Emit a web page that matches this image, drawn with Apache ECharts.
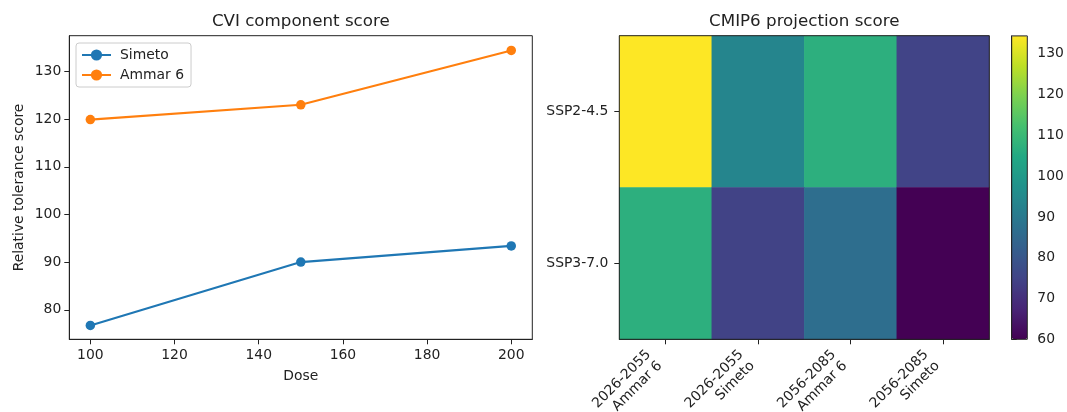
<!DOCTYPE html>
<html><head><meta charset="utf-8">
<script src="https://cdn.jsdelivr.net/npm/echarts@6/dist/echarts.min.js"></script>
<style>html,body{margin:0;padding:0;background:#fff}#c{width:1067px;height:412px}</style>
</head><body><div id="c"></div>
<script>
// ---- data ----
const doses = [100, 150, 200];
const simeto = [76.7, 90.0, 93.4];
const ammar6 = [119.9, 123.0, 134.4];
const doseTicks = [100, 120, 140, 160, 180, 200];
const scoreTicks = [80, 90, 100, 110, 120, 130];
const periods = ['2026-2055\nAmmar 6', '2026-2055\nSimeto', '2056-2085\nAmmar 6', '2056-2085\nSimeto'];
const scenarios = ['SSP2-4.5', 'SSP3-7.0'];
const ssp245 = [134.4, 93.5, 107.0, 75.0];
const ssp370 = [107.0, 74.6, 86.8, 60.0];
const cbarTicks = [60, 70, 80, 90, 100, 110, 120, 130];
const cbarMin = 60.0, cbarMax = 134.4;
const viridis = ['#440154', '#482576', '#414487', '#355f8d', '#2a788e', '#21918c', '#22a884', '#44bf70', '#7ad151', '#bddf26', '#fde725'];

// ---- build ----
const FONT = 'DejaVu Sans';
const TXT = '#222';
const FS = 13.9, TFS = 16.7;
const heatData = [];
[ssp245, ssp370].forEach((row, yi) => row.forEach((v, xi) => heatData.push([xi, yi, v])));

const chart = echarts.init(document.getElementById('c'), null, {renderer: 'canvas'});
const axisLine = {show: true, lineStyle: {color: TXT, width: 1}};
const axisTick = {show: true, inside: false, length: 5, lineStyle: {color: TXT, width: 1}};
const lbl = {color: TXT, fontFamily: FONT, fontSize: FS};
const frame = {show: true, borderColor: TXT, borderWidth: 1, backgroundColor: 'transparent', outerBoundsMode: 'none', containLabel: false};

chart.setOption({
  animation: false,
  backgroundColor: '#fff',
  textStyle: {fontFamily: FONT},
  title: [
    {text: 'CVI component score', left: 300.8, top: 13, textAlign: 'center', padding: 0,
     textStyle: {fontFamily: FONT, fontSize: TFS, fontWeight: 'normal', color: TXT}},
    {text: 'CMIP6 projection score', left: 804.3, top: 13, textAlign: 'center', padding: 0,
     textStyle: {fontFamily: FONT, fontSize: TFS, fontWeight: 'normal', color: TXT}}
  ],
  legend: {
    data: ['Simeto', 'Ammar 6'],
    orient: 'vertical', left: 76, top: 43,
    itemWidth: 29, itemHeight: 14, itemGap: 6,
    padding: [5, 7, 5, 5],
    backgroundColor: 'rgba(255,255,255,0.8)', borderColor: '#cccccc', borderWidth: 1, borderRadius: 3,
    textStyle: {color: TXT, fontFamily: FONT, fontSize: FS, padding: [0, 0, 0, 4]}
  },
  grid: [
    Object.assign({left: 69.3, top: 35.7, width: 463, height: 303.6}, frame),
    Object.assign({left: 619.3, top: 35.7, width: 370, height: 303.6, z: 10}, frame),
    Object.assign({left: 1011.7, top: 35.9, width: 15.6, height: 303.4, z: 10}, frame)
  ],
  xAxis: [
    {type: 'value', gridIndex: 0, min: 95, max: 205,
     name: 'Dose', nameLocation: 'middle', nameGap: 30.5, nameTextStyle: {color: TXT, fontFamily: FONT, fontSize: FS},
     axisLine, axisTick: Object.assign({}, axisTick, {customValues: doseTicks}),
     axisLabel: Object.assign({}, lbl, {margin: 9, customValues: doseTicks}),
     splitLine: {show: false}},
    {type: 'category', gridIndex: 1, data: periods,
     axisLine, axisTick: Object.assign({}, axisTick, {alignWithLabel: true}),
     axisLabel: Object.assign({}, lbl, {rotate: 45, interval: 0, margin: 30, align: 'right', verticalAlign: 'bottom', lineHeight: 16}),
     splitLine: {show: false}},
    {type: 'value', gridIndex: 2, show: false, min: 0, max: 1}
  ],
  yAxis: [
    {type: 'value', gridIndex: 0, min: 73.8, max: 137.5,
     name: 'Relative tolerance score', nameLocation: 'middle', nameGap: 43,
     nameTextStyle: {color: TXT, fontFamily: FONT, fontSize: FS},
     axisLine, axisTick: Object.assign({}, axisTick, {customValues: scoreTicks}),
     axisLabel: Object.assign({}, lbl, {margin: 8, customValues: scoreTicks}),
     splitLine: {show: false}},
    {type: 'category', gridIndex: 1, data: scenarios, inverse: true,
     axisLine, axisTick: Object.assign({}, axisTick, {alignWithLabel: true}),
     axisLabel: Object.assign({}, lbl, {margin: 11}),
     splitLine: {show: false}},
    {type: 'value', gridIndex: 2, position: 'right', min: cbarMin, max: cbarMax,
     axisLine, axisTick: Object.assign({}, axisTick, {customValues: cbarTicks}),
     axisLabel: Object.assign({}, lbl, {margin: 10, customValues: cbarTicks}),
     splitLine: {show: false}}
  ],
  visualMap: {
    type: 'continuous', seriesIndex: 2, min: cbarMin, max: cbarMax,
    inRange: {color: viridis},
    left: 1011.7, top: 35.9, itemWidth: 15.6, itemHeight: 303.4, padding: 0,
    calculable: false, realtime: false, text: null, showLabel: false,
    textStyle: {color: 'transparent'}, z: 2
  },
  series: [
    {name: 'Simeto', type: 'line', xAxisIndex: 0, yAxisIndex: 0,
     data: doses.map((d, i) => [d, simeto[i]]),
     color: '#1f77b4', lineStyle: {width: 2.1, color: '#1f77b4'},
     symbol: 'circle', symbolSize: 9.5, itemStyle: {color: '#1f77b4'}, showSymbol: true},
    {name: 'Ammar 6', type: 'line', xAxisIndex: 0, yAxisIndex: 0,
     data: doses.map((d, i) => [d, ammar6[i]]),
     color: '#ff7f0e', lineStyle: {width: 2.1, color: '#ff7f0e'},
     symbol: 'circle', symbolSize: 9.5, itemStyle: {color: '#ff7f0e'}, showSymbol: true},
    {name: 'CMIP6', type: 'heatmap', xAxisIndex: 1, yAxisIndex: 1, data: heatData,
     itemStyle: {borderWidth: 0}, emphasis: {disabled: true}}
  ]
});
</script></body></html>
